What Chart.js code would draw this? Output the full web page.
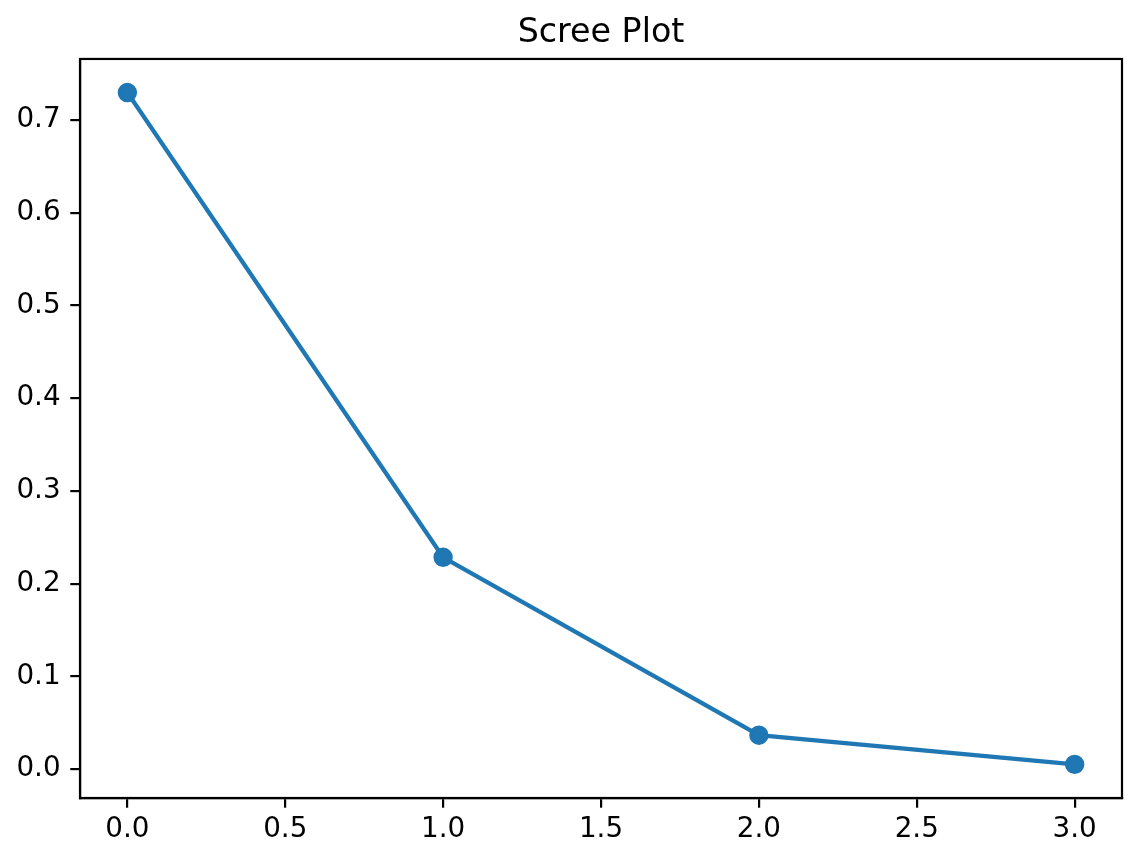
<!DOCTYPE html>
<html>
<head>
<meta charset="utf-8">
<script src="https://cdn.jsdelivr.net/npm/chart.js@4"></script>
<style>
  html, body { margin: 0; padding: 0; background: #fff; }
  #wrap { width: 1141px; height: 862px; }
</style>
</head>
<body>
<div id="wrap"><canvas id="scree" width="1141" height="862"></canvas></div>
<script>
// explained variance ratio per component
const components = [0, 1, 2, 3];
const varianceRatio = [0.7296, 0.2285, 0.0367, 0.0052];
const xTicks = [0, 0.5, 1, 1.5, 2, 2.5, 3];
const yTicks = [0, 0.1, 0.2, 0.3, 0.4, 0.5, 0.6, 0.7];

const BLUE = '#1f77b4';
const FONT = "'DejaVu Sans', sans-serif";

// matplotlib-like 5% margins
const xSpan = components[components.length - 1] - components[0];
const ySpan = Math.max(...varianceRatio) - Math.min(...varianceRatio);

// closes the box (top + right spines)
const frame = {
    id: 'frame',
    afterDraw(chart) {
        const { ctx, chartArea: a } = chart;
        ctx.save();
        ctx.strokeStyle = '#000';
        ctx.lineWidth = 2.2;
        ctx.strokeRect(a.left, a.top, a.right - a.left, a.bottom - a.top);
        ctx.restore();
    }
};

new Chart(document.getElementById('scree'), {
    type: 'scatter',
    data: {
        datasets: [{
            data: components.map((c, i) => ({ x: c, y: varianceRatio[i] })),
            showLine: true,
            borderColor: BLUE,
            backgroundColor: BLUE,
            borderWidth: 4.2,
            pointRadius: 8.3,
            pointBorderWidth: 2.8,
            pointBorderColor: BLUE,
            pointBackgroundColor: BLUE
        }]
    },
    options: {
        responsive: false,
        animation: false,
        layout: { padding: { left: 0, right: 19, top: 0, bottom: 0 } },
        plugins: {
            legend: { display: false },
            tooltip: { enabled: false },
            title: {
                display: true,
                fullSize: false,
                text: 'Scree Plot',
                color: '#000',
                font: { family: FONT, size: 33.3, weight: 'normal' },
                padding: { top: 13.5, bottom: 5.5 }
            }
        },
        scales: {
            x: {
                type: 'linear',
                min: components[0] - 0.05 * xSpan,
                max: components[components.length - 1] + 0.05 * xSpan,
                afterBuildTicks: (s) => { s.ticks = xTicks.map(v => ({ value: v })); },
                afterFit: (s) => { s.height = 64; },
                border: { display: true, color: '#000', width: 2.2 },
                grid: { drawOnChartArea: false, drawTicks: true, tickLength: 9.7, color: '#000', lineWidth: 2.2 },
                ticks: {
                    color: '#000',
                    padding: 5,
                    maxRotation: 0,
                    font: { family: FONT, size: 27.8 },
                    callback: (v) => v.toFixed(1)
                }
            },
            y: {
                type: 'linear',
                min: Math.min(...varianceRatio) - 0.05 * ySpan,
                max: Math.max(...varianceRatio) + 0.05 * ySpan,
                afterBuildTicks: (s) => { s.ticks = yTicks.map(v => ({ value: v })); },
                afterFit: (s) => { s.width = 80; },
                border: { display: true, color: '#000', width: 2.2 },
                grid: { drawOnChartArea: false, drawTicks: true, tickLength: 9.7, color: '#000', lineWidth: 2.2 },
                ticks: {
                    color: '#000',
                    padding: 9.7,
                    font: { family: FONT, size: 27.8 },
                    callback: (v) => v.toFixed(1)
                }
            }
        }
    },
    plugins: [frame]
});
</script>
</body>
</html>
